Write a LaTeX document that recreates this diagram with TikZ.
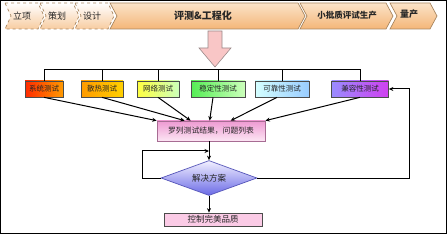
\documentclass[tikz,border=0pt]{standalone}
\usepackage{fontspec}
\setmainfont{Noto Sans CJK SC}
\usepackage{xcolor}
\definecolor{etapeBord}{HTML}{A88660}
\definecolor{etapeHaut}{HTML}{FBE3C8}
\definecolor{etapeBas}{HTML}{F4B678}
\definecolor{flecheRose}{HTML}{F9C6C6}
\definecolor{flecheRoseBord}{HTML}{9A8A8A}
\definecolor{testRouge}{HTML}{FF2A00}
\definecolor{testOrange}{HTML}{FF9A00}
\definecolor{testOr}{HTML}{FFD000}
\definecolor{testJaune}{HTML}{FFFF40}
\definecolor{testVertPale}{HTML}{CCFFBB}
\definecolor{testVert}{HTML}{55EE55}
\definecolor{testCyan}{HTML}{D4FFFF}
\definecolor{testBleu}{HTML}{99CCFF}
\definecolor{testLilas}{HTML}{9A8CFF}
\definecolor{testMagenta}{HTML}{D040F0}
\definecolor{listeRose}{HTML}{EE9AD2}
\definecolor{listeRosePale}{HTML}{FCE6F4}
\definecolor{finRose}{HTML}{FBCBE6}
\definecolor{losangeBleu}{HTML}{6A6AE6}
\definecolor{losangePale}{HTML}{F2F0FF}
\usepackage{tikz}
\usetikzlibrary{arrows.meta, shapes.geometric}
\tikzset{
  %% ── Stage band ───────────────────────────────────────────────────────
  etape/.style      = {draw=etapeBord, line width=0.7pt, top color=etapeHaut,
                       middle color=white, bottom color=etapeBas},
  etapePale/.style  = {etape, dashed, top color=white, middle color=white,
                       bottom color=etapeBas!70},
  titreEtape/.style = {font=\fontsize{9}{10}\selectfont, text=black!85,
                       inner sep=1pt},
  %%
  %% ── Boxes ────────────────────────────────────────────────────────────
  bloc/.style       = {draw=black!70, line width=0.7pt, align=center,
                       font=\fontsize{7.5}{8}\selectfont, inner sep=0.5pt,
                       text=black!85},
  blocTest/.style   = {bloc, minimum height=16pt},
  losange/.style    = {bloc, diamond, aspect=2.7, draw=losangeBleu!80!black,
                       top color=losangePale, bottom color=losangeBleu,
                       font=\fontsize{8.5}{9}\selectfont},
  %%
  %% ── Arrows ───────────────────────────────────────────────────────────
  trait/.style      = {draw=black, line width=1pt},
  fleche/.style     = {trait, -{Stealth[length=4.5pt, width=4pt]}},
}

\begin{document}
\begin{tikzpicture}[x=1pt, y=-1pt]
\useasboundingbox (0,0) rectangle (447,235);
\draw[line width=0.9pt] (0.5,0.5) rectangle (446.2,233.2);

%% stage band
\foreach \a/\b in {5/38, 40/73, 75/108}
  \draw[etapePale] (\a,3) -- (\b,3) -- (\b+6,16) -- (\b,29) -- (\a,29)
                   -- (\a+6,16) -- cycle;
\foreach \a/\b in {110/298, 300/386, 390/430}
  \draw[etape] (\a,3) -- (\b,3) -- (\b+7,16) -- (\b,29) -- (\a,29)
               -- (\a+7,16) -- cycle;
\node[titreEtape] (e1) at (22,16) {立项};
\node[titreEtape] (e2) at (57,16) {策划};
\node[titreEtape] (e3) at (92,16) {设计};
\node[titreEtape, font=\fontsize{10}{11}\selectfont\bfseries] (e4) at (203,16) {评测\&工程化};
\node[titreEtape, font=\fontsize{8.5}{9}\selectfont\bfseries] (e5) at (347,15) {小批质评试生产};
\node[titreEtape, font=\fontsize{9}{10}\selectfont\bfseries] (e6) at (409,14) {量产};

%% big arrow down into the tests
\draw[fill=flecheRose, draw=flecheRoseBord, line width=0.6pt]
  (208,31) -- (222,31) -- (222,48) -- (231,48) -- (215,67) -- (199,48)
  -- (208,48) -- cycle;

%% the six tests
\node[blocTest, minimum width=38pt, left color=testRouge, right color=testOrange]
  (s1) at (44,89) {系统测试};
\node[blocTest, minimum width=42pt, left color=testOrange, right color=testOr]
  (s2) at (102,89) {散热测试};
\node[blocTest, minimum width=42pt, left color=testJaune, right color=testVertPale]
  (s3) at (158,89) {网络测试};
\node[blocTest, minimum width=54pt, left color=testVert, right color=testVertPale]
  (s4) at (218,89) {稳定性测试};
\node[blocTest, minimum width=54pt, left color=testCyan, right color=testBleu]
  (s5) at (282,89) {可靠性测试};
\node[blocTest, minimum width=57pt, left color=testLilas, right color=testMagenta]
  (s6) at (360,89) {兼容性测试};

\coordinate (bus) at (0,70);
\draw[trait] (s1.north) |- (bus -| s6.north) -- (s6.north);
\foreach \i in {2,...,5} \draw[trait] (s\i.north) -- (bus -| s\i.north);

%% collect, solve, deliver
\node[bloc, minimum width=108pt, minimum height=20pt, draw=listeRose!70!black,
      top color=listeRose, bottom color=listeRosePale,
      font=\fontsize{7.8}{8}\selectfont]
  (liste) at (211,131) {罗列测试结果，问题列表};
\node[losange, minimum width=96pt, minimum height=35pt] (sol) at (209,178) {解决方案};
\node[bloc, minimum width=98pt, minimum height=13pt, fill=finRose,
      font=\fontsize{8.5}{9}\selectfont]
  (fin) at (213,219.5) {控制完美品质};

\draw[fleche] (s1.south) -- (liste.north west);
\draw[fleche] (s2.south) -- ([xshift=28pt]liste.north west);
\draw[fleche] (s3.south) -- ([xshift=34pt]liste.north west);
\draw[fleche] ([xshift=-5pt]s4.south) -- ([xshift=53pt]liste.north west);
\draw[fleche] ([xshift=-5pt]s5.south) -- ([xshift=74pt]liste.north west);
\draw[fleche] (s6.south) -- (liste.north east);

\draw[fleche] (liste.south -| sol.north) -- (sol.north);
\draw[fleche] (sol.west) -- ++(-18,0) |- (0,151 -| sol.north);
\draw[fleche] (sol.east) -| ([xshift=21pt]s6.east) -- (s6.east);
\draw[fleche] (sol.south) -- (fin.north -| sol.south);

\end{tikzpicture}
\end{document}
